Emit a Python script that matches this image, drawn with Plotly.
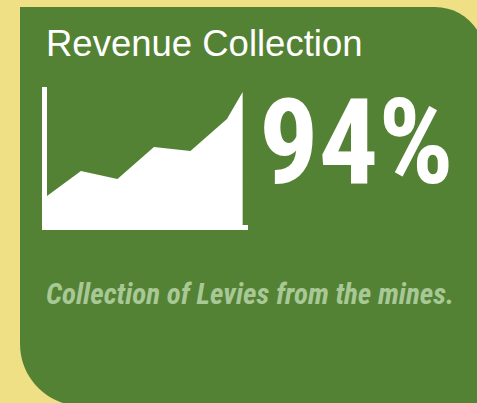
import plotly.graph_objects as go

W, H = 477, 403

# sparkline data
periods = [0, 0.93, 1.93, 2.93, 3.93, 4.93, 5.36]
collected = [29, 54, 46, 78, 74, 106, 133]

title = "Revenue Collection"
kpi = "94%"
caption = "Collection of Levies from the mines."

YELLOW = "#EFE086"
GREEN = "#548235"
PALE = "#A8C896"


def px(x, y):
    return f"{x / W:.5f},{1 - y / H:.5f}"


# card outline: square top-left, rounded top-right and bottom-left
k = 0.5523
r1, r2 = 50, 62
left, top, right, bottom = 20, 7, 485, 406
card = (
    f"M{px(left, top)} L{px(right - r1, top)} "
    f"C{px(right - r1 + k * r1, top)} {px(right, top + r1 - k * r1)} {px(right, top + r1)} "
    f"L{px(right, bottom)} L{px(left + r2, bottom)} "
    f"C{px(left + r2 - k * r2, bottom)} {px(left, bottom - r2 + k * r2)} {px(left, bottom - r2)} Z"
)

fig = go.Figure(go.Scatter(
    x=periods, y=collected, mode="lines", fill="tozeroy",
    line=dict(color="white", width=0), fillcolor="white",
    hoverinfo="skip",
))

fig.update_layout(
    width=W, height=H, margin=dict(l=0, r=0, t=0, b=0),
    paper_bgcolor=YELLOW, plot_bgcolor="rgba(0,0,0,0)",
    showlegend=False,
    xaxis=dict(domain=[47 / W, 248 / W], range=[0, 201 / 36.5],
               showgrid=False, zeroline=False, showticklabels=False, ticks="",
               showline=True, linecolor="white", linewidth=5),
    yaxis=dict(domain=[1 - 225 / H, 1 - 87 / H], range=[0, 138],
               showgrid=False, zeroline=False, showticklabels=False, ticks="",
               showline=True, linecolor="white", linewidth=5),
    shapes=[dict(type="path", xref="paper", yref="paper", path=card,
                 fillcolor=GREEN, line=dict(width=0), layer="below")],
    annotations=[
        dict(text=title, xref="paper", yref="paper", x=44 / W, y=1 - 43 / H,
             xanchor="left", yanchor="middle", showarrow=False,
             font=dict(family="Liberation Sans, Arial", size=36.5, color="white")),
        dict(text=f"<b>{kpi}</b>", xref="paper", yref="paper", x=257 / W, y=1 - 143 / H,
             xanchor="left", yanchor="middle", showarrow=False,
             font=dict(family="Roboto Condensed", size=118, color="white")),
        dict(text=f"<b><i>{caption}</i></b>", xref="paper", yref="paper", x=44 / W, y=1 - 294 / H,
             xanchor="left", yanchor="middle", showarrow=False,
             font=dict(family="Roboto Condensed", size=29, color=PALE)),
    ],
)

fig.write_html("out.html", config={"displayModeBar": False},
               post_script="document.body.style.margin='0';")
